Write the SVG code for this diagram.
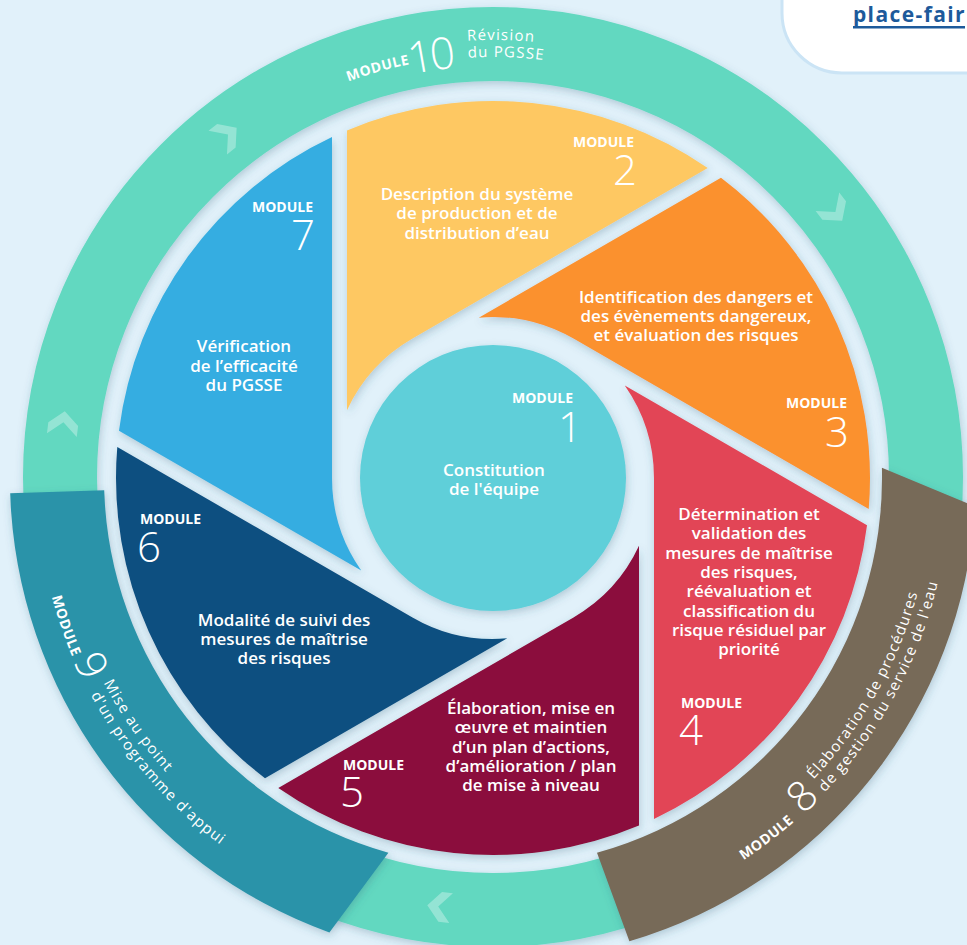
<svg xmlns="http://www.w3.org/2000/svg" width="967" height="945" viewBox="0 0 967 945">
<defs>
<style>
.f{font-family:"Open Sans","Liberation Sans",sans-serif;fill:#fff}
.d{font-size:17px;font-weight:600;text-anchor:middle}
.m{font-size:14px;font-weight:700}
.n{font-size:42px;font-weight:300}
.r{font-size:15px;font-weight:500;letter-spacing:1.2px}
.rm{font-size:14px;font-weight:700;letter-spacing:0.5px}
.e{text-anchor:end}
.chev{fill:#fff;fill-opacity:0.32}
</style>
<filter id="sh" x="-10%" y="-10%" width="120%" height="120%">
<feDropShadow dx="1" dy="3" stdDeviation="4" flood-color="#2d5b78" flood-opacity="0.28"/>
</filter>
<path id="c10a" d="M71,478 A422,422 0 0 1 915,478"/>
<path id="c10b" d="M81,478 A412,412 0 0 1 905,478"/>
<path id="c10c" d="M55,478 A438,438 0 0 1 931,478"/>
<path id="c10d" d="M72,478 A421,421 0 0 1 914,478"/>
<path id="p9a" d="M36,478 A457,457 0 0 0 493,935"/>
<path id="p9b" d="M35,478 A458,458 0 0 0 493,936"/>
<path id="p9c" d="M53,478 A440,440 0 0 0 493,918"/>
<path id="p8a" d="M493,935 A457,457 0 0 0 950,478"/>
<path id="p8b" d="M493,936 A458,458 0 0 0 951,478"/>
<path id="p8c" d="M493,918 A440,440 0 0 0 933,478"/>
</defs>
<rect x="0" y="0" width="967" height="945" fill="#e1f1fa"/>

<g id="module-10">
<circle cx="493" cy="477" r="433" fill="none" stroke="#62d8c0" stroke-width="74" filter="url(#sh)"/>
<text class="f rm"><textPath href="#c10a" startOffset="515">MODULE</textPath></text>
<text class="f n" style="font-size:44px;letter-spacing:-4px"><textPath href="#c10b" startOffset="564">10</textPath></text>
<text class="f r"><textPath href="#c10c" startOffset="662">Révision</textPath></text>
<text class="f r"><textPath href="#c10d" startOffset="636">du PGSSE</textPath></text>
</g>

<g id="connectors">
<polygon class="chev" points="0,-13 15,0 15,11 0,-2 -15,11 -15,0" transform="translate(63.2,424.2) rotate(7)"/>
<polygon class="chev" points="0,-13 15,0 15,11 0,-2 -15,11 -15,0" transform="translate(226.4,135.8) rotate(52)"/>
<polygon class="chev" points="0,-13 15,0 15,11 0,-2 -15,11 -15,0" transform="translate(834.2,210.4) rotate(142)"/>
<polygon class="chev" points="0,-13 15,0 15,11 0,-2 -15,11 -15,0" transform="translate(440.2,906.8) rotate(-83)"/>
</g>

<g id="module-9">
<path fill="#2a93a9" filter="url(#sh)" d="M10.2,493.2 L104.2,490.2 A389,389 0 0 0 388.4,852.7 L329.4,932.4 A483,483 0 0 1 10.2,493.2 Z"/>
<text class="f rm"><textPath href="#p9a" startOffset="120">MODULE</textPath></text>
<text class="f n"><textPath href="#p9b" startOffset="188">9</textPath></text>
<text class="f r"><textPath href="#p9c" startOffset="213">Mise au point</textPath></text>
<text class="f r"><textPath href="#p9a" startOffset="226">d'un programme d'appui</textPath></text>
</g>

<g id="module-8">
<path fill="#776a58" filter="url(#sh)" d="M881.9,467.8 L975.1,506.5 A483,483 0 0 1 629.4,941.3 L597,852.8 A389,389 0 0 0 881.9,467.8 Z"/>
<text class="f rm"><textPath href="#p8a" startOffset="265">MODULE</textPath></text>
<text class="f n"><textPath href="#p8b" startOffset="341">8</textPath></text>
<text class="f r"><textPath href="#p8c" startOffset="359">Élaboration de procédures</textPath></text>
<text class="f r"><textPath href="#p8a" startOffset="371">de gestion du service de l'eau</textPath></text>
</g>

<g id="module-2">
<path fill="#fec862" filter="url(#sh)" d="M412.5,338.57 L707.72,168.12 A377,377 0 0 0 346.99,130.42 L347,410.14 A161,161 0 0 1 412.5,338.57 Z"/>
<text class="f m e" x="634" y="147">MODULE</text>
<text class="f n e" x="637" y="185">2</text>
<text class="f d"><tspan x="477" y="200">Description du système</tspan><tspan x="477" y="219.3">de production et de</tspan><tspan x="477" y="238.6">distribution d’eau</tspan></text>
</g>

<g id="module-3">
<path fill="#fb912e" filter="url(#sh)" d="M573.5,338.57 L868.72,509.02 A377,377 0 0 0 720.99,177.75 L478.77,317.63 A161,161 0 0 1 573.5,338.57 Z"/>
<text class="f m e" x="847" y="408">MODULE</text>
<text class="f n e" x="849" y="447">3</text>
<text class="f d"><tspan x="696" y="302.7">Identification des dangers et</tspan><tspan x="696" y="322">des évènements dangereux,</tspan><tspan x="696" y="341.3">et évaluation des risques</tspan></text>
</g>

<g id="module-4">
<path fill="#e24456" filter="url(#sh)" d="M654,478 L654,818.89 A377,377 0 0 0 867.02,525.32 L624.77,385.49 A161,161 0 0 1 654,478 Z"/>
<text class="f m" x="681" y="708">MODULE</text>
<text class="f n" x="679" y="745">4</text>
<text class="f d"><tspan x="749" y="520">Détermination et</tspan><tspan x="749" y="539.3">validation des</tspan><tspan x="749" y="558.7">mesures de maîtrise</tspan><tspan x="749" y="578">des risques,</tspan><tspan x="749" y="597.3">réévaluation et</tspan><tspan x="749" y="616.7">classification du</tspan><tspan x="749" y="636">risque résiduel par</tspan><tspan x="749" y="655.3">priorité</tspan></text>
</g>

<g id="module-5">
<path fill="#8b0f3d" filter="url(#sh)" d="M573.5,617.43 L278.28,787.88 A377,377 0 0 0 639.01,825.58 L639,545.86 A161,161 0 0 1 573.5,617.43 Z"/>
<text class="f m" x="343" y="770">MODULE</text>
<text class="f n" x="340" y="807">5</text>
<text class="f d"><tspan x="531" y="714">Élaboration, mise en</tspan><tspan x="531" y="733.3">œuvre et maintien</tspan><tspan x="531" y="752.7">d’un plan d’actions,</tspan><tspan x="531" y="772">d’amélioration / plan</tspan><tspan x="531" y="791.3">de mise à niveau</tspan></text>
</g>

<g id="module-6">
<path fill="#0b4f80" filter="url(#sh)" d="M412.5,617.43 L117.28,446.98 A377,377 0 0 0 265.01,778.25 L507.23,638.37 A161,161 0 0 1 412.5,617.43 Z"/>
<text class="f m" x="140" y="524">MODULE</text>
<text class="f n" x="137" y="562">6</text>
<text class="f d"><tspan x="284" y="625.7">Modalité de suivi des</tspan><tspan x="284" y="645">mesures de maîtrise</tspan><tspan x="284" y="664.3">des risques</tspan></text>
</g>

<g id="module-7">
<path fill="#36ade1" filter="url(#sh)" d="M332,478 L332,137.11 A377,377 0 0 0 118.98,430.68 L361.23,570.51 A161,161 0 0 1 332,478 Z"/>
<text class="f m e" x="313" y="212">MODULE</text>
<text class="f n e" x="315" y="250">7</text>
<text class="f d"><tspan x="244" y="352.3">Vérification</tspan><tspan x="244" y="371.6">de l’efficacité</tspan><tspan x="244" y="390.9">du PGSSE</tspan></text>
</g>

<g id="module-1">
<circle cx="493" cy="478" r="133" fill="#5ecfd9" filter="url(#sh)"/>
<text class="f m e" x="573" y="403">MODULE</text>
<text class="f n e" x="582" y="442">1</text>
<text class="f d"><tspan x="494" y="475.7">Constitution</tspan><tspan x="494" y="495">de l'équipe</tspan></text>
</g>

<g id="link">
<path d="M782,-3 L782,13 A60,60 0 0 0 842,73 L972,73 L972,-3 Z" fill="#fff" stroke="#cbe4f5" stroke-width="3"/>
<text x="966" y="22" text-anchor="end" font-family="'Open Sans','Liberation Sans',sans-serif" font-size="21" font-weight="700" letter-spacing="1.4" fill="#1d5a9b">place-fair</text>
<rect x="853" y="26" width="112" height="2.5" fill="#1d5a9b"/>
</g>
</svg>
